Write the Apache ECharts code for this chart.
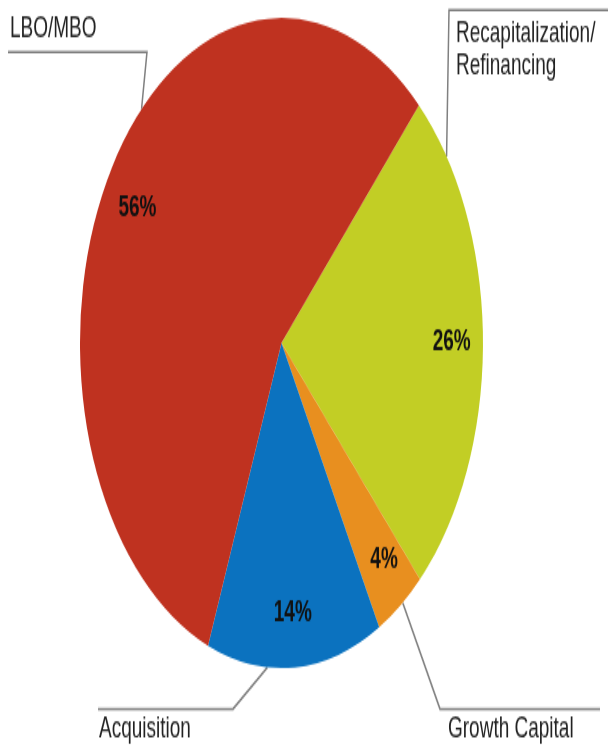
<!DOCTYPE html>
<html>
<head>
<meta charset="utf-8">
<script src="https://cdn.jsdelivr.net/npm/echarts@6/dist/echarts.min.js"></script>
<style>
html{margin:0;padding:0;background:#fff;overflow:hidden;}
body{margin:0;padding:0;background:#fff;width:608px;height:747px;}
/* the source picture is stretched vertically, so draw a round pie and stretch it */
#main{width:608px;height:463px;transform:scaleY(1.6134);transform-origin:0 0;}
</style>
</head>
<body>
<div id="main"></div>
<script>
var categories = ['Recapitalization/\nRefinancing', 'Growth Capital', 'Acquisition', 'LBO/MBO'];
var shares = [26, 4, 14, 56];
var colors = ['#C2CE25', '#E88F1F', '#0B72BF', '#BF3220'];

var SY = 1.6134;
var cx = 281.5, cy = 343 / SY, R = 201.5;

// outer label spots in picture pixels; edge = angle (deg, clockwise from top) where the leader touches the pie
var outer = [
	{x: 456, y: 50, edge: 55, line: [[449, 10], [608, 10]]},
	{x: 448, y: 729, edge: 143, line: [[440, 709], [600, 709]]},
	{x: 99, y: 729, edge: 184, line: [[233, 709], [98, 709]]},
	{x: 10, y: 29, edge: 316, line: [[147, 52], [8, 52]]}
];
// small nudges of the percentage labels, picture pixels
var pctNudge = [[0, 0], [2, -5], [0, -4], [0, 11]];

var pieData = [];
var ringData = [];
for (var i = 0; i < categories.length; i++) {
	pieData.push({name: categories[i], value: shares[i], itemStyle: {color: colors[i]}});
	ringData.push({name: categories[i], value: shares[i], label: {offset: [pctNudge[i][0], pctNudge[i][1] / SY]}});
}

var myChart = echarts.init(document.getElementById('main'));
var option = {
	animation: false,
	series: [
		{
			type: 'pie',
			center: [cx, cy],
			radius: [0, R],
			startAngle: 47,
			clockwise: true,
			avoidLabelOverlap: false,
			silent: true,
			data: pieData,
			itemStyle: {borderWidth: 0},
			label: {
				show: true,
				position: 'outside',
				formatter: '{b}',
				fontFamily: 'Liberation Sans, Arial, sans-serif',
				fontSize: 19,
				lineHeight: 20,
				color: '#222'
			},
			labelLine: {
				show: true,
				lineStyle: {color: '#808080', width: 1.5}
			},
			labelLayout: function (params) {
				var o = outer[params.dataIndex];
				var a = o.edge * Math.PI / 180;
				var pts = [[cx + R * Math.sin(a), cy - R * Math.cos(a)]];
				o.line.forEach(function (p) { pts.push([p[0], p[1] / SY]); });
				return {
					x: o.x,
					y: o.y / SY,
					align: 'left',
					verticalAlign: 'middle',
					labelLinePoints: pts
				};
			}
		},
		{
			// transparent ring, only to put the percentages at ~0.83 of the radius
			type: 'pie',
			center: [cx, cy],
			radius: [R * 0.66, R],
			startAngle: 47,
			clockwise: true,
			silent: true,
			data: ringData,
			itemStyle: {color: 'transparent', borderWidth: 0},
			label: {
				show: true,
				position: 'inside',
				formatter: '{c}%',
				fontFamily: 'Liberation Sans, Arial, sans-serif',
				fontSize: 19,
				fontWeight: 'bold',
				color: '#111'
			},
			labelLine: {show: false}
		}
	]
};
myChart.setOption(option);
</script>
</body>
</html>
